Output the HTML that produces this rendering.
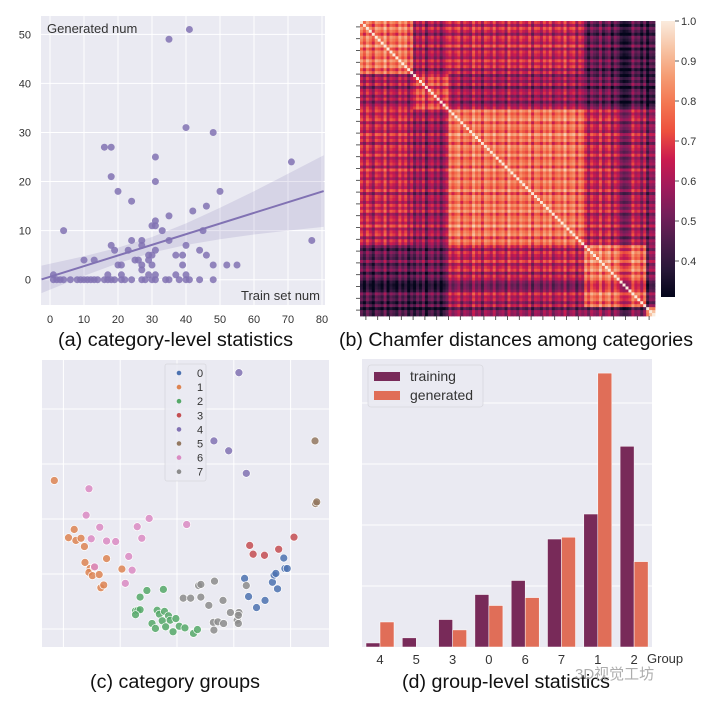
<!DOCTYPE html>
<html><head><meta charset="utf-8"><style>
body{margin:0;background:#fff}
svg{display:block;font-family:"Liberation Sans","Noto Sans CJK SC",sans-serif}
</style></head><body>
<svg id="fig" width="701" height="703" viewBox="0 0 701 703" xmlns="http://www.w3.org/2000/svg">
<rect width="701" height="703" fill="#fff"/>
<g id="pa"></g>
<g id="pb"></g>
<g id="pc"></g>
<g id="pd"></g>
<text x="58" y="346" font-size="19" fill="#111" textLength="235" lengthAdjust="spacingAndGlyphs">(a) category-level statistics</text>
<text x="339" y="346" font-size="19" fill="#111" textLength="354" lengthAdjust="spacingAndGlyphs">(b) Chamfer distances among categories</text>
<text x="90" y="688" font-size="19" fill="#111" textLength="170" lengthAdjust="spacingAndGlyphs">(c) category groups</text>
<text x="402" y="688" font-size="19" fill="#111" textLength="208" lengthAdjust="spacingAndGlyphs">(d) group-level statistics</text>
<text x="575" y="679" font-size="15" fill="#999" opacity="0.8">3D视觉工坊</text>
</svg>
<script>
const NS="http://www.w3.org/2000/svg";
function mk(p,t,a){const e=document.createElementNS(NS,t);for(const k in a)e.setAttribute(k,a[k]);p.appendChild(e);return e;}
const BG="#EAEAF2";

// ---------- Panel A data ----------
const aTrainNum=[41,35,40,48,16,18,31,71,18,31,20,50,24,46,42,35,31,30,31,33,4,45,24,27,35,77,18,27,40,19,23,31,44,29,30,37,39,46,10,13,25,26,29,27,20,21,30,39,48,52,55,27,1,17,21,29,31,37,40,
1,2,3,4,6,8,9,10,11,12,13,14,16,17,18,19,21,22,24,27,28,30,31,34,35,38,40,41,44,48];
const aGenNum=[51,49,31,30,27,27,25,24,21,20,18,18,16,15,14,13,12,11,11,10,10,10,8,8,8,8,7,7,7,6,6,6,6,5,5,5,5,5,4,4,4,4,4,3,3,3,3,3,3,3,3,2,1,1,1,1,1,1,1,
0,0,0,0,0,0,0,0,0,0,0,0,0,0,0,0,0,0,0,0,0,0,0,0,0,0,0,0,0,0];
const aXTicks=[0,10,20,30,40,50,60,70,80];
const aYTicks=[0,10,20,30,40,50];
const aRegSlope=0.217, aRegIntercept=0.6;
const aBandX=[-2.5,10,20,30,40,50,60,70,80.5];
const aBandHalf=[2.8,2.0,1.6,1.6,2.2,3.2,4.4,5.8,7.3];

(function(){
 const g=document.getElementById('pa');
 const L=41,R=325,T=16,B=305;
 const X=v=>50+v*3.4, Y=v=>279.7-v*4.907;
 const bg=mk(g,'rect',{x:L,y:T,width:R-L,height:B-T,fill:BG});
 
 aXTicks.forEach(t=>{mk(g,'line',{x1:X(t),x2:X(t),y1:T,y2:B,stroke:'#fff','stroke-width':1});
  const tx=mk(g,'text',{x:X(t),y:323,'font-size':11,fill:'#333','text-anchor':'middle'});tx.textContent=t;
  });
 aYTicks.forEach(t=>{mk(g,'line',{x1:L,x2:R,y1:Y(t),y2:Y(t),stroke:'#fff','stroke-width':1});
  const tx=mk(g,'text',{x:31,y:Y(t)+4,'font-size':11,fill:'#333','text-anchor':'end'});tx.textContent=t;
  });
 let up=[],lo=[];
 aBandX.forEach((x,i)=>{const c=aRegIntercept+aRegSlope*x;up.push(X(x)+','+Y(c+aBandHalf[i]));lo.push(X(x)+','+Y(c-aBandHalf[i]));});
 const band=mk(g,'polygon',{points:up.concat(lo.reverse()).join(' '),fill:'#8172b3','fill-opacity':0.18});
 
 aTrainNum.forEach((x,i)=>{const c=mk(g,'circle',{cx:X(x),cy:Y(aGenNum[i]),r:3.5,fill:'#8172b3','fill-opacity':0.85});
  });
 const ln=mk(g,'line',{x1:X(-2.5),y1:Y(aRegIntercept+aRegSlope*-2.5),x2:X(80.5),y2:Y(aRegIntercept+aRegSlope*80.5),stroke:'#8172b3','stroke-width':2});
 
 const t1=mk(g,'text',{x:47,y:33,'font-size':13,fill:'#333'});t1.textContent='Generated num';
 
 const t2=mk(g,'text',{x:320,y:300,'font-size':13,fill:'#333','text-anchor':'end'});t2.textContent='Train set num';
 
})();

// ---------- Panel B data ----------
const bBlockEdges=[0,18,30,76,97,100];
const bBlockMean=[[0.78,0.60,0.64,0.47,0.40],[0.60,0.72,0.58,0.49,0.38],[0.64,0.58,0.78,0.63,0.52],[0.47,0.49,0.63,0.80,0.52],[0.40,0.38,0.52,0.52,0.84]];
const bCatOffset=[0.02,-0.03,0.04,0.00,-0.05,0.03,0.01,-0.02,0.05,-0.04,0.02,0.00,-0.03,0.04,-0.01,0.03,-0.05,0.01,
-0.04,0.02,-0.02,0.04,-0.06,0.01,0.03,-0.03,0.02,-0.05,0.00,0.03,
0.03,-0.02,0.01,0.04,-0.04,0.02,0.00,-0.03,0.05,-0.01,0.02,-0.05,0.03,0.01,-0.02,0.04,-0.03,0.00,0.02,-0.04,0.05,-0.01,0.01,-0.03,0.03,0.00,-0.02,0.04,-0.05,0.02,0.01,-0.03,0.03,-0.01,0.04,-0.04,0.00,0.02,-0.02,0.05,-0.03,0.01,0.03,-0.05,0.02,-0.01,
0.02,-0.04,0.03,0.00,-0.02,0.05,-0.03,0.01,0.04,-0.05,0.02,-0.01,-0.06,-0.08,-0.07,-0.05,0.03,-0.02,0.00,-0.06,0.01,
-0.04,0.03,0.02];
const bOffsetGain=1.7;
const bCbarTicks=[0.4,0.5,0.6,0.7,0.8,0.9,1.0];
const bVmin=0.31,bVmax=1.0;
const rocket=[[0,[3,5,26]],[0.1,[40,23,56]],[0.2,[76,29,75]],[0.3,[117,31,90]],[0.4,[161,26,91]],[0.5,[203,27,79]],[0.6,[237,80,62]],[0.7,[243,118,81]],[0.8,[245,156,115]],[0.9,[247,196,165]],[1,[250,235,221]]];
function cmap(v){let t=Math.max(0,Math.min(1,(v-bVmin)/(bVmax-bVmin)));
 for(let i=1;i<rocket.length;i++){if(t<=rocket[i][0]){const a=rocket[i-1],b=rocket[i],f=(t-a[0])/(b[0]-a[0]);
  return 'rgb('+a[1].map((c,k)=>Math.round(c+(b[1][k]-c)*f)).join(',')+')';}}return 'rgb(250,235,221)';}
(function(){
 const g=document.getElementById('pb');
 const L=360,T=21,S=295,N=bCatOffset.length,cs=S/N;
 const blk=i=>{for(let b=0;b<bBlockEdges.length-1;b++)if(i<bBlockEdges[b+1])return b;return 0;};
 for(let i=0;i<N;i++)for(let j=0;j<N;j++){
  const v=i===j?1:bBlockMean[blk(i)][blk(j)]+bOffsetGain*(bCatOffset[i]+bCatOffset[j]);
  const r=mk(g,'rect',{x:(L+j*cs).toFixed(2),y:(T+i*cs).toFixed(2),width:(cs+0.4).toFixed(2),height:(cs+0.4).toFixed(2),fill:cmap(v)});
  }
 for(let k=0;k<25;k++){const p=T+(k+0.5)*S/25;
  mk(g,'line',{x1:L-4,x2:L,y1:p,y2:p,stroke:'#333','stroke-width':0.8});
  const q=L+(k+0.5)*S/25;mk(g,'line',{x1:q,x2:q,y1:T+S,y2:T+S+4,stroke:'#333','stroke-width':0.8});}
 const defs=mk(g,'defs',{});const lg=mk(defs,'linearGradient',{id:'rk',x1:0,y1:1,x2:0,y2:0});
 rocket.forEach(s=>mk(lg,'stop',{offset:s[0],'stop-color':'rgb('+s[1].join(',')+')'}));
 const cb=mk(g,'rect',{x:661,y:T,width:14,height:276,fill:'url(#rk)'});
 
 const CY=v=>T+(bVmax-v)/(bVmax-bVmin)*276;
 bCbarTicks.forEach(t=>{mk(g,'line',{x1:675,x2:679,y1:CY(t),y2:CY(t),stroke:'#333','stroke-width':0.8});
  const tx=mk(g,'text',{x:681,y:CY(t)+4,'font-size':11,fill:'#333'});tx.textContent=t.toFixed(1);
  });
})();

// ---------- Panel C data ----------
const cGroupNames=['0','1','2','3','4','5','6','7'];
const cColors=['#4c72b0','#dd8452','#55a868','#c44e52','#8172b3','#937860','#da8bc3','#8c8c8c'];
const cX=[
[11.9,12.6,14.0,15.5,16.8,17.1,17.4,17.7,18.8,19.0,19.4],
[-21.6,-18.1,-19.1,-17.8,-16.9,-16.3,-16.2,-15.3,-15.5,-14.9,-13.7,-12.4,-9.7,-13.4,-12.9,-14.6],
[-6.5,-5.3,-2.4,-7.3,-6.9,-6.5,-7.3,-3.5,-3.1,-2.2,-1.5,-2.6,-1.2,-0.2,-4.4,-3.8,-2.0,-0.7,0.4,1.4,2.9,3.6],
[12.8,13.4,15.4,17.9,20.6],
[10.9,6.5,9.1,12.2],
[24.3,24.4,24.6],
[-15.5,-16.0,-13.6,-15.1,-12.4,-10.8,-7.0,-6.2,-4.9,1.7,-8.5,-7.9,-9.1,-14.5],
[1.1,2.4,4.2,3.8,4.2,6.6,8.1,5.6,12.2,9.4,10.9,6.4,7.2,8.2,6.5,10.6,10.8,10.8]];
const cY=[
[-10.8,-14.1,-16.1,-14.8,-11.5,-10.2,-9.9,-12.7,-7.1,-9.0,-9.0],
[7.0,-1.9,-3.4,-3.9,-3.5,-5.0,-7.9,-9.0,-9.7,-10.3,-10.1,-7.2,-9.1,-12.5,-12.0,-8.8],
[-14.2,-13.0,-12.8,-16.7,-16.6,-16.5,-17.4,-16.6,-17.3,-16.8,-17.6,-18.5,-18.4,-18.1,-19.0,-19.9,-19.6,-20.5,-19.5,-19.8,-20.8,-20.1],
[-4.8,-6.4,-6.6,-5.5,-3.3],
[26.6,14.2,12.4,8.3],
[14.2,2.8,3.1],
[5.5,0.7,-1.5,-3.6,-4.0,-4.1,-1.4,-3.5,0.1,-1.0,-6.8,-9.3,-11.7,-8.7],
[-14.4,-14.4,-14.2,-12.1,-11.9,-11.3,-14.8,-15.7,-12.1,-17.0,-17.0,-18.8,-18.7,-19.0,-20.2,-18.4,-19.0,-17.5]];
const cXGrid=[-20,-10,0,10,20], cYGrid=[20,10,0,-10,-20];
(function(){
 const g=document.getElementById('pc');
 const L=42,R=329,T=360,B=647;
 const X=v=>177+v*5.68, Y=v=>519-v*5.5;
 const bg=mk(g,'rect',{x:L,y:T,width:R-L,height:B-T,fill:BG});
 
 cXGrid.forEach(t=>mk(g,'line',{x1:X(t),x2:X(t),y1:T,y2:B,stroke:'#fff','stroke-width':1}));
 cYGrid.forEach(t=>mk(g,'line',{x1:L,x2:R,y1:Y(t),y2:Y(t),stroke:'#fff','stroke-width':1}));
 cX.forEach((xs,gi)=>xs.forEach((x,i)=>{const c=mk(g,'circle',{cx:X(x),cy:Y(cY[gi][i]),r:4,fill:cColors[gi],'fill-opacity':0.85,stroke:'#fff','stroke-width':0.7});
  }));
 const lgd=mk(g,'rect',{x:165,y:364,width:41,height:117,fill:BG,'fill-opacity':0.85,stroke:'#d8d8de','stroke-width':0.8,rx:2});
 
 cGroupNames.forEach((n,i)=>{const y=373+i*14.1;
  const m=mk(g,'circle',{cx:179,cy:y,r:2.3,fill:cColors[i]});
  
  const t=mk(g,'text',{x:197,y:y+4,'font-size':11,fill:'#333'});t.textContent=n;
  });
})();

// ---------- Panel D data ----------
const dGroups=['4','5','3','0','6','7','1','2'];
const dTraining=[0.066,0.15,0.45,0.86,1.09,1.77,2.18,3.29];
const dGenerated=[0.41,0,0.28,0.68,0.81,1.80,4.49,1.40];
const dGrid=[1,2,3,4];
(function(){
 const g=document.getElementById('pd');
 const L=362,R=652,T=359,B=647;
 const X=i=>380+i*36.3, Y=v=>B-v*61;
 const bg=mk(g,'rect',{x:L,y:T,width:R-L,height:B-T,fill:BG});
 
 dGrid.forEach(t=>mk(g,'line',{x1:L,x2:R,y1:Y(t),y2:Y(t),stroke:'#fff','stroke-width':1}));
 dGroups.forEach((n,i)=>{
  const a=mk(g,'rect',{x:X(i)-14,y:Y(dTraining[i]),width:14,height:dTraining[i]*61,fill:'#782a59',stroke:'#fff','stroke-width':0.5});
  
  const b=mk(g,'rect',{x:X(i),y:Y(dGenerated[i]),width:14,height:dGenerated[i]*61,fill:'#e06e58',stroke:'#fff','stroke-width':0.5});
  
  const t=mk(g,'text',{x:X(i),y:664,'font-size':13,fill:'#333','text-anchor':'middle'});t.textContent=n;
  });
 const gt=mk(g,'text',{x:647,y:663,'font-size':13,fill:'#333'});gt.textContent='Group';
 
 const lg=mk(g,'rect',{x:368,y:365,width:115,height:42,fill:BG,'fill-opacity':0.9,stroke:'#d8d8de','stroke-width':0.8,rx:3});
 
 [['training','#782a59',376],['generated','#e06e58',395]].forEach(e=>{
  const s=mk(g,'rect',{x:374,y:e[2]-4,width:26,height:9,fill:e[1]});
  
  const t=mk(g,'text',{x:410,y:e[2]+5,'font-size':14,fill:'#333'});t.textContent=e[0];
  });
})();
</script>
</body></html>
